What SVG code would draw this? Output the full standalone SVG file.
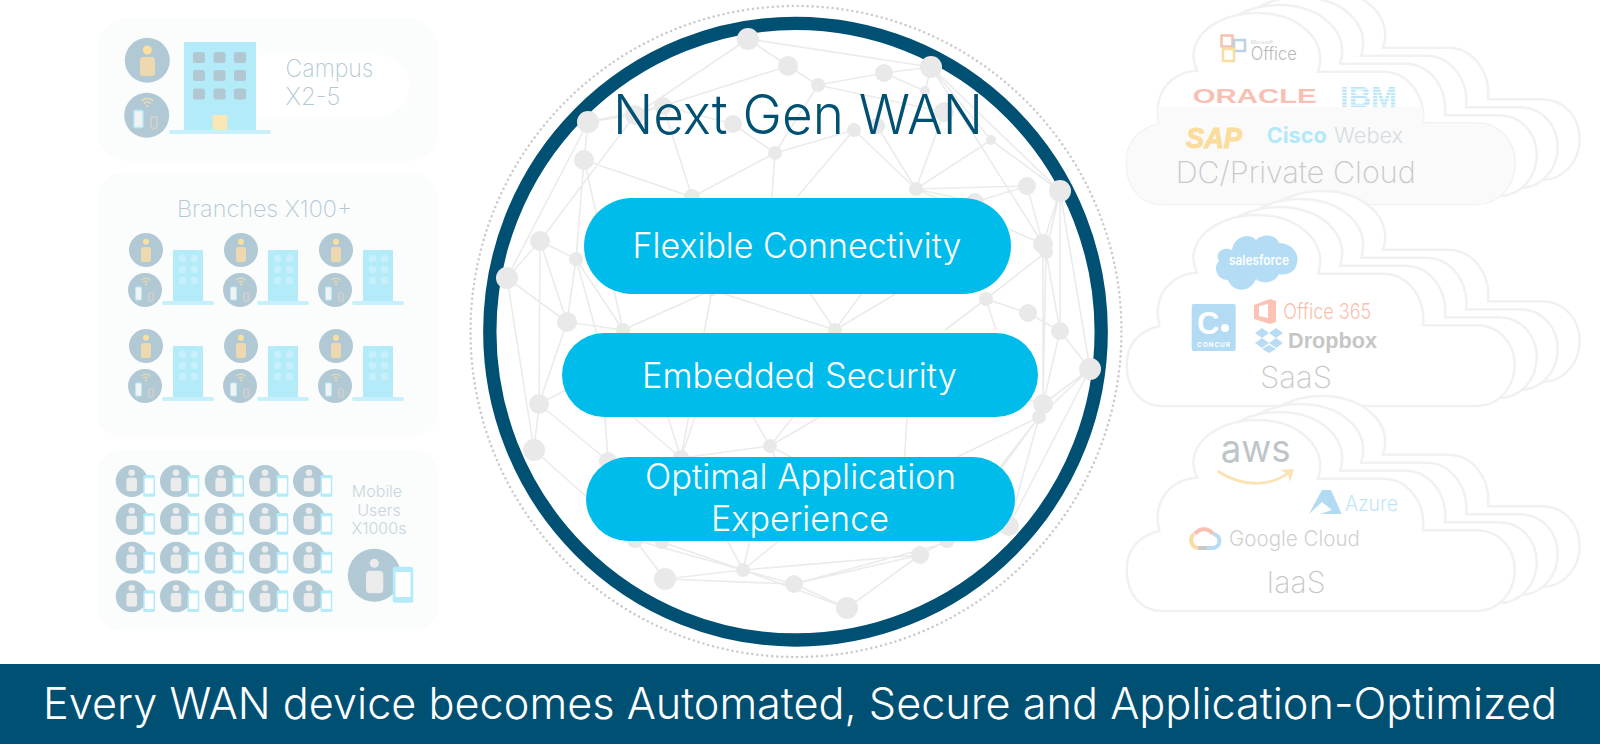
<svg xmlns="http://www.w3.org/2000/svg" width="1600" height="744" viewBox="0 0 1600 744">
<style>
text{font-family:Inter,"Liberation Sans",sans-serif;font-weight:300}
.panel{fill:#fbfcfc}
.lbl{fill:#b2c9d5;font-weight:200}
.cl{fill:#fff;stroke:#f1f1f1;stroke-width:2.5}
.ct{fill:#c9c9c9;font-size:30px;font-weight:200}
.pill{fill:#00bceb}
.pt{fill:#fff;font-size:35px}
.net path{stroke:#ebebeb;stroke-width:1.6;fill:none}
.nd circle{fill:#e9e9e9}
.wifi{fill:none;stroke:#f6dfa8;stroke-linecap:round}
</style>
<defs>
<g id="bldg">
<rect x="173" y="250" width="30" height="51" fill="#b3ebf9"/>
<rect x="162" y="301" width="52" height="4" rx="2" fill="#c8effc"/>
<g fill="#c8effc"><rect x="179" y="255" width="7" height="7" rx="2"/><rect x="191" y="255" width="7" height="7" rx="2"/><rect x="179" y="266" width="7" height="7" rx="2"/><rect x="191" y="266" width="7" height="7" rx="2"/><rect x="179" y="277" width="7" height="7" rx="2"/><rect x="191" y="277" width="7" height="7" rx="2"/></g>
<circle cx="146" cy="250" r="17" fill="#b1c9d5"/><circle cx="146" cy="241.7" r="3" fill="#fadf9f"/><rect x="141" y="247" width="10" height="15" rx="2" fill="#edd8b0"/>
<circle cx="145" cy="290" r="17" fill="#b1c9d5"/>
<rect x="135.500" y="287" width="6" height="13" rx="1" fill="#f2f2f2" stroke="#b3ebf9"/>
<rect x="148.800" y="293" width="4.500" height="8" rx="1.500" fill="none" stroke="#cfcfcf" stroke-width="1.700"/>
<path class="wifi" d="M141.500 279.800a6.500 6.500 0 0 1 9 0M143.500 282a3.500 3.500 0 0 1 5 0"/><circle cx="146" cy="284.300" r="1" fill="#f6dfa8"/>
</g>
<g id="mu">
<circle r="16" fill="#b1c9d5"/><circle cy="-8.300" r="3.300" fill="#ebebeb"/><rect x="-5.300" y="-3.300" width="10.600" height="13.500" rx="2.500" fill="#ebebeb"/>
<rect x="11.500" y="-6" width="11.800" height="21.700" rx="1.500" fill="#b3ebf9"/><rect x="13" y="-2.800" width="8.800" height="15.400" fill="#fff"/>
</g>
<path id="cloud" d="M1161.700 204H1476.700C1499 204 1514.700 185 1514.700 163C1514.700 141 1499 123.300 1476.700 123.300H1423C1426 96 1408 71.700 1383 71.700H1318C1329 40 1298 13 1256.700 13C1215 13 1182 40 1197.300 70.700C1172 72 1152 92 1159.300 124C1138 129 1126.700 143 1126.700 163C1126.700 188 1142 204 1161.700 204Z"/>
<g id="cloudset">
<use href="#cloud" class="cl" x="65" y="-24"/>
<use href="#cloud" class="cl" x="43" y="-16"/>
<use href="#cloud" class="cl" x="22" y="-8"/>
<use href="#cloud" class="cl"/>
</g>
<pattern id="stripes" width="4" height="3.200" patternUnits="userSpaceOnUse"><rect width="4" height="2.200" fill="#b9e5f7"/></pattern>
<clipPath id="lower"><rect x="1100" y="107" width="500" height="100"/></clipPath>
</defs>

<g id="panel-campus">
<rect class="panel" x="97" y="18" width="341" height="143" rx="30"/>
<rect x="230" y="55" width="179" height="62" rx="31" fill="#fff"/>
<rect x="184" y="42" width="72" height="88" fill="#b3ebf9"/>
<rect x="169" y="130" width="102" height="4" rx="2" fill="#c8effc"/>
<g fill="#b1c8d3"><rect x="193" y="52" width="12" height="11" rx="2.500"/><rect x="213.500" y="52" width="12" height="11" rx="2.500"/><rect x="234" y="52" width="12" height="11" rx="2.500"/><rect x="193" y="70" width="12" height="11" rx="2.500"/><rect x="213.500" y="70" width="12" height="11" rx="2.500"/><rect x="234" y="70" width="12" height="11" rx="2.500"/><rect x="193" y="88.500" width="12" height="11" rx="2.500"/><rect x="213.500" y="88.500" width="12" height="11" rx="2.500"/><rect x="234" y="88.500" width="12" height="11" rx="2.500"/></g>
<rect x="212.700" y="115" width="14.600" height="15" rx="1" fill="#fbe6b6"/>
<circle cx="147.300" cy="60.300" r="22.500" fill="#b1c9d5"/><circle cx="147.300" cy="50" r="4.500" fill="#fadf9f"/><rect x="140" y="57" width="15" height="19" rx="3" fill="#edd8b0"/>
<circle cx="146.700" cy="115.300" r="22.500" fill="#b1c9d5"/>
<rect x="134" y="110.500" width="9" height="17" rx="1" fill="#f2f2f2" stroke="#b3ebf9" stroke-width="1.300"/>
<rect x="151" y="117" width="6" height="11.500" rx="2" fill="none" stroke="#cfcfcf" stroke-width="2"/>
<path class="wifi" stroke-width="1.300" d="M142 100.500a7.500 7.500 0 0 1 10.600 0M144.300 103.300a4 4 0 0 1 6 0"/><circle cx="147.300" cy="106" r="1.100" fill="#f6dfa8"/>
<text class="lbl" x="285.500" y="77" font-size="24" textLength="88" lengthAdjust="spacingAndGlyphs">Campus</text>
<text class="lbl" x="285.500" y="105" font-size="24" textLength="55" lengthAdjust="spacingAndGlyphs">X2-5</text>
</g>

<g id="panel-branches">
<rect class="panel" x="97" y="173" width="341" height="264" rx="25"/>
<text class="lbl" x="177" y="217" font-size="23" textLength="175" lengthAdjust="spacingAndGlyphs">Branches X100+</text>
<use href="#bldg"/><use href="#bldg" x="95"/><use href="#bldg" x="190"/>
<use href="#bldg" y="96"/><use href="#bldg" x="95" y="96"/><use href="#bldg" x="190" y="96"/>
</g>

<g id="panel-mobile">
<rect class="panel" x="97" y="450" width="341" height="181" rx="25"/>
<use href="#mu" x="131.700" y="481"/><use href="#mu" x="176" y="481"/><use href="#mu" x="220.700" y="481"/><use href="#mu" x="265" y="481"/><use href="#mu" x="309" y="481"/>
<use href="#mu" x="131.700" y="519"/><use href="#mu" x="176" y="519"/><use href="#mu" x="220.700" y="519"/><use href="#mu" x="265" y="519"/><use href="#mu" x="309" y="519"/>
<use href="#mu" x="131.700" y="557.700"/><use href="#mu" x="176" y="557.700"/><use href="#mu" x="220.700" y="557.700"/><use href="#mu" x="265" y="557.700"/><use href="#mu" x="309" y="557.700"/>
<use href="#mu" x="131.700" y="596.300"/><use href="#mu" x="176" y="596.300"/><use href="#mu" x="220.700" y="596.300"/><use href="#mu" x="265" y="596.300"/><use href="#mu" x="309" y="596.300"/>
<g fill="#c6d6de" font-size="16" text-anchor="middle" style="font-weight:200"><text x="377" y="497">Mobile</text><text x="379" y="515.500">Users</text><text x="379" y="534">X1000s</text></g>
<circle cx="374.300" cy="575.300" r="26.500" fill="#b1c9d5"/><circle cx="374.300" cy="563.300" r="4.500" fill="#ebebeb"/><rect x="366" y="570.700" width="17.300" height="22.600" rx="4" fill="#ebebeb"/>
<rect x="392.700" y="566.700" width="20.600" height="36" rx="2.500" fill="#b3ebf9"/><rect x="395.500" y="572" width="15" height="25" fill="#fff"/>
</g>

<g id="ring">
<circle cx="796" cy="331.500" r="325.500" fill="none" stroke="#cbcbcb" stroke-width="2.600" stroke-linecap="round" stroke-dasharray="0 5"/>
<ellipse cx="795.500" cy="331.700" rx="305.700" ry="308.300" fill="#fff" stroke="#005073" stroke-width="13.300"/>
</g>

<g id="connectors" class="net">
<path d="M748 39L788 66M748 39L635 115M748 39L931 67M788 66L663 106M788 66L818 85M588 122L635 115M588 122L663 106M588 122L584 160M588 122L507 278M635 115L540 241M635 115L663 106M663 106L692 197M663 106L733 124M733 124L775 153M584 160L692 197M584 160L576 259M584 160L623 330M775 153L692 197M775 153L818 85M775 153L854 130M775 153L765 290M540 241L576 259M540 241L507 278M540 241L567 322M540 241L539 404M576 259L567 322M576 259L623 330M576 259L600 345M507 278L567 322M507 278L534 450M567 322L623 330M567 322L539 404M623 330L712 290M712 290L835 330M712 290L681 458M818 85L884 73M884 73L931 67M931 67L925 91M925 91L884 73M818 85L944 112M854 130L916 189M854 130L797 197M877 126L916 189M944 112L916 189M931 67L991 140M931 67L1060 191M931 67L1043 244M991 140L1060 191M916 189L991 140M916 189L1027 186M916 189L975 202M1027 186L975 202M1027 186L1043 244M1060 191L1043 244M1060 191L1046 252M1060 191L1060 331M1060 191L1090 369M916 189L1043 244M1046 252L986 299M986 299L1028 313M1028 313L1060 331M1046 252L1060 331M1046 252L1043 404M986 299L945 330M986 299L996 330M835 330L810 293M835 330L862 293M835 330L897 293M1060 331L1090 369M1043 244L1043 404M1060 331L1043 404M1090 369L1043 404M1090 369L1039 417M1090 369L1009 526M1039 417L1009 526M1039 417L1000 470M1039 417L990 480M1039 417L890 490M1043 404L1010 395M908 400L902 500M770 446L840 405M770 446L947 540M770 446L753 417M770 446L793 417M770 446L781 470M681 458L770 446M681 458L633 417M681 458L668 417M681 458L695 417M539 404L534 450M539 404L608 461M539 404L566 390M534 450L635 540M608 461L605 417M635 540L665 579M662 542L743 570M635 540L743 570M665 579L743 570M665 579L794 584M743 570L794 584M743 570L920 555M743 570L727 540M743 570L750 540M743 570L780 540M794 584L847 608M743 570L847 608M794 584L920 555M847 608L920 555M920 555L947 540M947 540L1009 526M794 584L1009 526"/>
</g>

<g id="network-nodes" class="nd">
<circle cx="748" cy="39" r="11"/><circle cx="788" cy="66" r="10"/><circle cx="588" cy="122" r="11"/><circle cx="635" cy="115" r="10"/><circle cx="663" cy="106" r="9"/><circle cx="733" cy="124" r="9"/><circle cx="775" cy="153" r="7"/><circle cx="584" cy="160" r="10"/><circle cx="692" cy="197" r="8"/><circle cx="540" cy="241" r="10"/><circle cx="576" cy="259" r="7"/><circle cx="507" cy="278" r="11"/><circle cx="567" cy="322" r="10"/><circle cx="623" cy="330" r="7"/><circle cx="712" cy="290" r="6"/><circle cx="818" cy="85" r="7"/><circle cx="884" cy="73" r="9"/><circle cx="931" cy="67" r="11"/><circle cx="925" cy="91" r="5"/><circle cx="944" cy="112" r="10"/><circle cx="854" cy="130" r="7"/><circle cx="877" cy="126" r="8"/><circle cx="991" cy="140" r="5"/><circle cx="916" cy="189" r="7"/><circle cx="1027" cy="186" r="9"/><circle cx="1060" cy="191" r="11"/><circle cx="975" cy="202" r="9"/><circle cx="1043" cy="244" r="10"/><circle cx="1046" cy="252" r="7"/><circle cx="986" cy="299" r="7"/><circle cx="1028" cy="313" r="9"/><circle cx="1060" cy="331" r="9"/><circle cx="835" cy="330" r="7"/><circle cx="1090" cy="369" r="11"/><circle cx="1043" cy="404" r="10"/><circle cx="1039" cy="417" r="7"/><circle cx="1009" cy="526" r="10"/><circle cx="947" cy="540" r="8"/><circle cx="920" cy="555" r="9"/><circle cx="794" cy="584" r="9"/><circle cx="847" cy="608" r="11"/><circle cx="539" cy="404" r="10"/><circle cx="534" cy="450" r="11"/><circle cx="608" cy="461" r="9"/><circle cx="681" cy="458" r="8"/><circle cx="770" cy="446" r="7"/><circle cx="635" cy="540" r="8"/><circle cx="662" cy="542" r="7"/><circle cx="665" cy="579" r="11"/><circle cx="743" cy="570" r="7"/>
</g>

<text id="title" x="613" y="134" font-size="55" fill="#005073" textLength="370" lengthAdjust="spacingAndGlyphs">Next Gen WAN</text>

<g id="pill-flexible">
<rect class="pill" x="584" y="198" width="427" height="96" rx="48"/>
<text class="pt" x="632.500" y="258" textLength="329" lengthAdjust="spacingAndGlyphs">Flexible Connectivity</text>
</g>
<g id="pill-security">
<rect class="pill" x="562" y="333" width="476" height="84" rx="42"/>
<text class="pt" x="642" y="388" textLength="315" lengthAdjust="spacingAndGlyphs">Embedded Security</text>
</g>
<g id="pill-experience">
<rect class="pill" x="586" y="457" width="429" height="84" rx="42"/>
<text class="pt" x="645" y="489" textLength="311" lengthAdjust="spacingAndGlyphs">Optimal Application</text>
<text class="pt" x="711" y="531" textLength="178" lengthAdjust="spacingAndGlyphs">Experience</text>
</g>

<g id="cloud-private">
<use href="#cloudset"/>
<use href="#cloud" fill="#fafafa" clip-path="url(#lower)"/>
<rect x="1221.500" y="35.500" width="11" height="11" fill="none" stroke="#f6c2b0" stroke-width="2.500"/>
<rect x="1234" y="40" width="11" height="11" fill="none" stroke="#b9d3e4" stroke-width="2.500"/>
<rect x="1223" y="49" width="11" height="12" fill="none" stroke="#f8dca2" stroke-width="2.500"/>
<text x="1251" y="44" font-size="5" fill="#bdbdbd">Microsoft</text>
<text x="1250.700" y="60" font-size="18" fill="#b8b8b8" textLength="46" lengthAdjust="spacingAndGlyphs">Office</text>
<text x="1192.700" y="103.300" font-size="19.500" fill="#f8c0b4" style="font-weight:700;font-family:'Liberation Sans',sans-serif" textLength="124" lengthAdjust="spacingAndGlyphs">ORACLE</text>
<text x="1340" y="107" font-size="30" fill="url(#stripes)" style="font-weight:700;font-family:'Liberation Sans',sans-serif" textLength="57" lengthAdjust="spacingAndGlyphs">IBM</text>
<text x="1186" y="148" font-size="30" fill="#fbdc9b" stroke="#fbdc9b" style="font-weight:700;font-style:italic;font-family:'Liberation Sans',sans-serif" textLength="56" lengthAdjust="spacingAndGlyphs">SAP</text>
<text x="1266.700" y="143.300" font-size="21" fill="#b3e8f8" style="font-weight:700" textLength="60" lengthAdjust="spacingAndGlyphs">Cisco</text>
<text x="1334" y="143.300" font-size="21" fill="#d4dde3" textLength="69" lengthAdjust="spacingAndGlyphs">Webex</text>
<text class="ct" x="1175.700" y="183.300" textLength="240" lengthAdjust="spacingAndGlyphs">DC/Private Cloud</text>
</g>

<g id="cloud-saas">
<use href="#cloudset" y="202"/>
<path fill="#b4dcf5" d="M1232 250C1234 236 1250 232 1256 240C1262 233 1276 234 1279 243C1291 243 1300 253 1297 263C1296 272 1286 276 1279 274C1275 284 1260 284 1256 279C1250 294 1232 292 1228 280C1216 280 1213 266 1219 261C1214 252 1224 246 1232 250Z"/>
<text x="1229" y="265" font-size="13" fill="#fff" style="font-weight:600" textLength="60" lengthAdjust="spacingAndGlyphs">salesforce</text>
<rect x="1191.700" y="304" width="44" height="47" rx="2" fill="#b3dbf4"/>
<text x="1197" y="334" font-size="31" fill="#fff" style="font-weight:700;font-family:'Liberation Sans',sans-serif">C</text>
<circle cx="1225" cy="328" r="4" fill="#fff"/>
<text x="1197" y="347" font-size="6.500" fill="#fff" style="font-weight:700" textLength="33">CONCUR</text>
<path fill="#fcc2b4" d="M1254 305L1270 299L1276 301V322L1270 324L1254 319ZM1259 306V316L1268 318V304Z" fill-rule="evenodd"/>
<text x="1283.300" y="319" font-size="22" fill="#f9c0ae" textLength="88" lengthAdjust="spacingAndGlyphs">Office 365</text>
<path fill="#b9dcf5" d="M1262 328L1269 333L1262 338L1255 333ZM1276 328L1283 333L1276 338L1269 333ZM1262 338L1269 343L1262 348L1255 343ZM1276 338L1283 343L1276 348L1269 343ZM1269 345L1276 349L1269 353L1262 349Z"/>
<text x="1288" y="347.700" font-size="21.600" fill="#c6c6c6" style="font-weight:700;font-family:'Liberation Sans',sans-serif" textLength="89" lengthAdjust="spacingAndGlyphs">Dropbox</text>
<text class="ct" x="1260" y="388" textLength="72" lengthAdjust="spacingAndGlyphs">SaaS</text>
</g>

<g id="cloud-iaas">
<use href="#cloudset" y="407"/>
<text x="1220.700" y="461.700" font-size="38" fill="#bec5c8" style="font-weight:400" textLength="70" lengthAdjust="spacingAndGlyphs">aws</text>
<path d="M1217.500 471C1240 486 1268 488 1288 473" fill="none" stroke="#fbe2b3" stroke-width="2.800"/>
<path fill="#fbe2b3" d="M1280 470L1294 469L1290 482L1288 474Z"/>
<path fill="#b3daf3" d="M1322 490L1331 490L1341.700 514H1320L1332 510L1322 502L1309 514Z"/>
<text x="1345" y="511" font-size="21" fill="#bfe6f8" textLength="53" lengthAdjust="spacingAndGlyphs">Azure</text>
<path fill="none" stroke="#f9c0b4" stroke-width="4" d="M1195 534A11 11 0 0 1 1213 534"/>
<path fill="none" stroke="#f8dca2" stroke-width="4" d="M1198 548A8 8 0 0 1 1194 534"/>
<path fill="none" stroke="#c9c9c9" stroke-width="4" d="M1198 548H1207"/>
<path fill="none" stroke="#b9dcf5" stroke-width="4" d="M1207 548H1212A7 7 0 0 0 1213 534"/>
<text x="1229" y="545.700" font-size="22" fill="#d1d1d1" textLength="131" lengthAdjust="spacingAndGlyphs">Google Cloud</text>
<text class="ct" x="1266.500" y="593" textLength="59" lengthAdjust="spacingAndGlyphs">IaaS</text>
</g>

<g id="banner">
<rect x="0" y="664" width="1600" height="80" fill="#005073"/>
<text x="43" y="719" font-size="44" fill="#fff" textLength="1514" lengthAdjust="spacingAndGlyphs">Every WAN device becomes Automated, Secure and Application-Optimized</text>
</g>
</svg>
